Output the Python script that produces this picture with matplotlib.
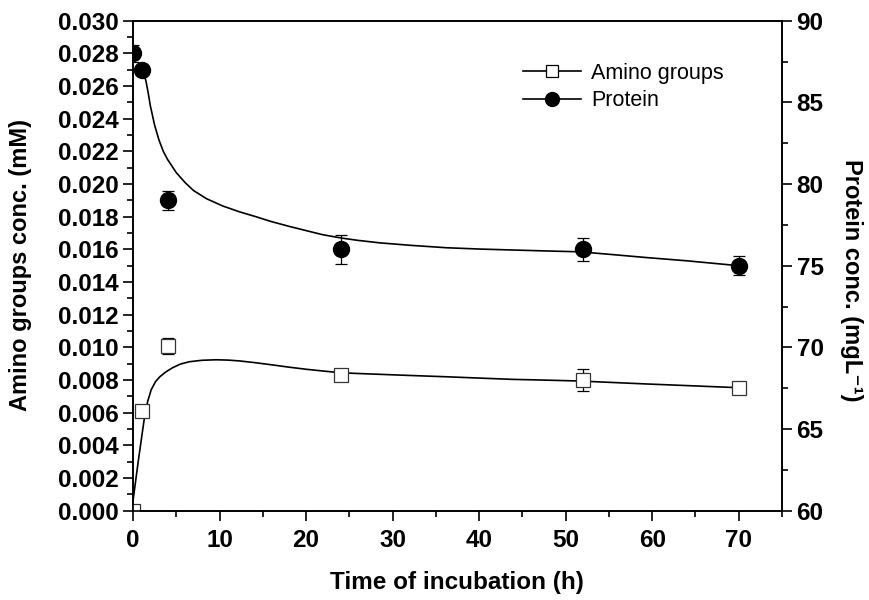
import matplotlib.pyplot as plt
from matplotlib.lines import Line2D
from matplotlib.ticker import MultipleLocator

plt.rcParams['font.family'] = ['Liberation Sans', 'DejaVu Sans']

# measured points
time_h = [0, 1, 4, 24, 52, 70]
amino = [0.0, 0.0061, 0.0101, 0.0083, 0.0080, 0.0075]
amino_err = [0.0002, 0.0003, 0.0005, 0.0003, 0.00065, 0.0002]
protein = [88, 87, 79, 76, 76, 75]
protein_err = [0.5, 0.3, 0.6, 0.9, 0.7, 0.6]

# fitted curves
amino_fit_t = [0.05, 0.3, 0.6, 1.0, 1.35, 1.7, 2.1, 2.6, 3.1, 3.8, 4.6, 5.5, 6.5, 8.0,
               9.6, 11.0, 12.3, 14.0, 16.2, 18.0, 20.0, 22.0, 23.9, 26.0, 28.5, 32.0,
               36.2, 40.0, 43.9, 48.0, 51.6, 55.0, 59.3, 64.0, 70.0]
amino_fit = [0.0008, 0.0018, 0.0030, 0.0045, 0.0058, 0.0067, 0.0074, 0.0079, 0.0082,
             0.0085, 0.00876, 0.00898, 0.00912, 0.00921, 0.00924, 0.00922, 0.00917,
             0.00907, 0.00892, 0.00879, 0.00866, 0.00855, 0.00845, 0.00840, 0.00835,
             0.00828, 0.0082, 0.00812, 0.00804, 0.00799, 0.00794, 0.00786, 0.00776,
             0.00766, 0.00753]
protein_fit_t = [1.0, 1.25, 1.5, 1.75, 2.0, 2.5, 3.0, 3.5, 4.0, 5.0, 6.0, 7.0, 8.5, 10.4,
                 12.3, 14.2, 16.0, 18.1, 20.0, 21.9, 24.0, 26.0, 28.5, 32.0, 36.2, 40.0,
                 43.9, 48.0, 51.6, 55.0, 59.3, 64.0, 70.0]
protein_fit = [87.0, 86.8, 86.3, 85.6, 84.8, 83.6, 82.7, 82.0, 81.5, 80.7, 80.1, 79.6,
               79.1, 78.65, 78.3, 78.0, 77.7, 77.4, 77.15, 76.9, 76.7, 76.55, 76.4,
               76.25, 76.1, 76.02, 75.96, 75.9, 75.85, 75.7, 75.5, 75.3, 75.0]

fig = plt.figure(figsize=(8.7, 6), dpi=100)
ax = fig.add_axes([133 / 870, 1 - 510.7 / 600, (782 - 133) / 870, (510.7 - 20.7) / 600])
ax2 = ax.twinx()

# amino groups (left axis)
ax.plot(amino_fit_t, amino_fit, color='black', lw=1.2)
ax.errorbar(time_h, amino, yerr=amino_err, fmt='s', ms=9.5, mfc='white', mec='#333333',
            mew=0.9, ecolor='black', elinewidth=0.9, capsize=4.5, capthick=0.9, zorder=3)

# protein (right axis)
ax2.plot(protein_fit_t, protein_fit, color='black', lw=1.2)
ax2.errorbar(time_h, protein, yerr=protein_err, fmt='o', ms=11.5, mfc='black', mec='black',
             ecolor='black', elinewidth=0.9, capsize=4.5, capthick=0.9, zorder=3)

ax.set_xlim(0, 75)
ax.set_ylim(0, 0.030)
ax2.set_ylim(60, 90)

ax.xaxis.set_major_locator(MultipleLocator(10))
ax.xaxis.set_minor_locator(MultipleLocator(5))
ax.yaxis.set_major_locator(MultipleLocator(0.002))
ax.yaxis.set_minor_locator(MultipleLocator(0.001))
ax.yaxis.set_major_formatter(plt.FormatStrFormatter('%.3f'))
ax2.yaxis.set_major_locator(MultipleLocator(5))
ax2.yaxis.set_minor_locator(MultipleLocator(2.5))

for a in (ax, ax2):
    for s in a.spines.values():
        s.set_linewidth(1.2)

ax.tick_params(which='major', direction='out', length=7, width=1.2, labelsize=17.5)
ax.tick_params(which='minor', direction='out', length=4, width=1.2)
ax.tick_params(axis='x', pad=6)
ax2.tick_params(axis='y', which='major', direction='out', length=7, width=1.2, labelsize=17.5)
ax2.tick_params(axis='y', which='minor', direction='out', length=4, width=1.2)
ax2.tick_params(axis='x', which='major', top=True, bottom=False, labeltop=False,
                labelbottom=False, direction='in', length=7, width=1.2)
ax2.tick_params(axis='x', which='minor', top=True, bottom=False, direction='in',
                length=4, width=1.2)
for lab in ax.get_xticklabels() + ax.get_yticklabels() + ax2.get_yticklabels():
    lab.set_fontweight('bold')

fig.text(457 / 870, 1 - 583 / 600, 'Time of incubation (h)', fontsize=17.5,
         fontweight='bold', ha='center', va='center')
fig.text(21 / 870, 1 - 265 / 600, 'Amino groups conc. (mM)', fontsize=17,
         fontweight='bold', ha='center', va='center', rotation=90)
fig.text(852 / 870, 1 - 280 / 600, 'Protein conc. (mgL⁻¹)', fontsize=17,
         fontweight='bold', ha='center', va='center', rotation=270)

handles = [
    Line2D([], [], color='black', lw=1.2, marker='s', ms=8, mfc='white', mec='black', mew=0.9),
    Line2D([], [], color='black', lw=1.2, marker='o', ms=10, mfc='black', mec='black'),
]
fig.legend(handles, ['Amino groups', 'Protein'], loc='center left',
           bbox_to_anchor=(523 / 870, 1 - 87 / 600), frameon=False, fontsize=15.5,
           handlelength=2.7, handletextpad=0.45, labelspacing=0.3, borderpad=0,
           borderaxespad=0)

fig.savefig('out.png', dpi=100)
